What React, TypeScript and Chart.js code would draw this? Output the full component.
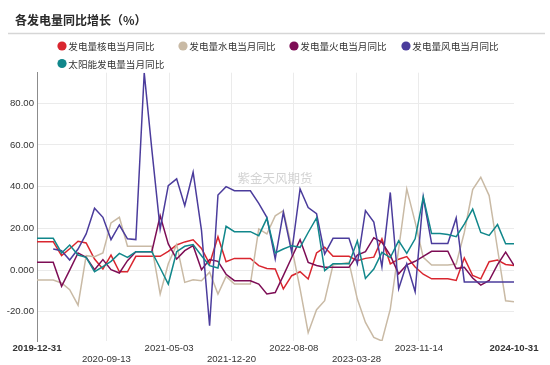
import React, { useEffect, useRef } from "react";
import { Chart, registerables } from "chart.js";

Chart.register(...registerables);

// ---- data ----
const months = [
  "2019-12",
  "2020-01", "2020-02", "2020-03", "2020-04", "2020-05", "2020-06", "2020-07", "2020-08", "2020-09", "2020-10", "2020-11", "2020-12",
  "2021-01", "2021-02", "2021-03", "2021-04", "2021-05", "2021-06", "2021-07", "2021-08", "2021-09", "2021-10", "2021-11", "2021-12",
  "2022-01", "2022-02", "2022-03", "2022-04", "2022-05", "2022-06", "2022-07", "2022-08", "2022-09", "2022-10", "2022-11", "2022-12",
  "2023-01", "2023-02", "2023-03", "2023-04", "2023-05", "2023-06", "2023-07", "2023-08", "2023-09", "2023-10", "2023-11", "2023-12",
  "2024-01", "2024-02", "2024-03", "2024-04", "2024-05", "2024-06", "2024-07", "2024-08", "2024-09", "2024-10",
];

const tickLabels = ["2019-12-31", "2020-09-13", "2021-05-03", "2021-12-20", "2022-08-08", "2023-03-28", "2023-11-14", "2024-10-31"];

const titleText = "各发电量同比增长（%）";
const watermarkText = "紫金天风期货";

const seriesNames = ["发电量核电当月同比", "发电量水电当月同比", "发电量火电当月同比", "发电量风电当月同比", "太阳能发电量当月同比"];
const seriesColors = ["#d9262f", "#c9baa5", "#7d0d55", "#4b3c9c", "#11878b"];

const nuclear = [
  13.6, 13.6, 13.6, 6.9, 10.2, 13.8, 13, 5.3, 0.5, 7.2, -0.8, -0.8,
  6.6, 6.6, 6.6, 6.6, 9, 12, 13.5, 14.5, 10.4, 3, 16, 4,
  5.6, 5.6, 5.6, 2.1, 0.8, 0.5, -9, -2.7, -0.8, -4.3, 8.2, 10.9,
  6.6, 6.6, 6.6, 4.5, 5.6, 6.2, 15, 3, 5.2, 6.5, 1.5, -2,
  -4.2, -4.2, -4.2, -5, 5.8, -2.6, -4.2, 4, 4.8, 2.7, 2.2,
];
const hydro = [
  -4.8, -4.8, -4.8, -6.2, -9.4, -16.8, 6.9, 6.4, 8.2, 22.6, 25.3, 11.4,
  11.4, 11.4, 11.4, -11.5, 3, 12.2, -5.9, -4.6, -5.1, -1, -11.5, -3,
  -6.7, -6.7, -6.7, 19.7, 17.3, 26, 28.5, 11, -9, -30, -19, -14.7,
  2.5, 3, 3.7, -13.9, -25.1, -32.3, -34, -18.7, 10.1, 38.9, 23, 6.1,
  2.4, 2.4, 2.4, 2.9, 18, 38.6, 44.5, 35.7, 10.1, -14.7, -15.2,
];
const thermal = [
  3.7, 3.7, 3.7, -7.8, 0, 8.2, 6.1, 0.2, 5, 0.2, -1.4, 4.5,
  8.8, 8.8, 8.8, 26, 12.5, 5.3, 9.3, 11.7, 0.2, 5, 4.2, -2,
  -5.1, -5.1, -5.1, -6.7, -11.5, -10.8, -2.7, 6, 14.6, 3.7, 2.2, 1.3,
  1.3, 1.3, 1.3, 7.2, 8.8, 15.5, 13.3, 7, -1.8, 2.5, 4.2, 6.6,
  9, 9, 9, 0.7, 1.3, -3.8, -7.2, -5, 2.6, 8.6, 2.2,
];
const wind = [
  null, null, 10.1, 9.3, 4.8, 10.1, 17.3, 29.6, 25.3, 14.6, 21.6, 15,
  14.6, 94.6, 58, 19.7, 40.5, 43.7, 30.9, 46.9, 19, -26.7, 36, 40,
  38, 38, 38, 32, 25.3, 5.3, 27.7, 8.5, 38.9, 30, 27, 7.7,
  15.2, 15.2, 15.2, 3, 28.5, 23, 1.5, 37.2, -9, 3, -10.4, 35,
  12.7, 12.7, 12.7, 25, -5.7, -5.7, -5.7, -5.7, -5.7, -5.7, -5.7,
];
const solar = [
  15.2, 15.2, 15.2, 8.2, 12, 7.2, 6.1, -0.8, 1.6, 4.2, 8, 6.1,
  8.8, 8.8, 8.8, 1, -6.7, 8.8, 11.4, 12.2, 6.9, 2.1, 1, 21,
  18.4, 18.4, 18.4, 16.5, 24.8, 8.2, 10.1, 11.7, 10.9, 18, 25, -0.3,
  3, 3, 3, 14, -4, 0.5, 8.5, 6, 14, 8, 15, 35,
  17.5, 17.5, 17, 16, 22, 29.2, 18, 16.6, 21.8, 12.6, 12.6,
];

const yTicks = [-20, 0, 20, 40, 60, 80];

// ---- helpers ----
const DAY = 86400000;
const baseTime = Date.UTC(2019, 11, 31);
const monthEndDay = (ym: string) => {
  const [y, m] = ym.split("-").map(Number);
  return (Date.UTC(y, m, 0) - baseTime) / DAY;
};
const dateDay = (s: string) => {
  const [y, m, d] = s.split("-").map(Number);
  return (Date.UTC(y, m - 1, d) - baseTime) / DAY;
};
const tickDays = tickLabels.map(dateDay);

const allSeries = [nuclear, hydro, thermal, wind, solar];
const allValues = allSeries.flat().filter((v) => v !== null) as number[];
const yMin = Math.min(...allValues);
const yMax = Math.max(...allValues);

const CJK = '"Noto Sans CJK SC", "Noto Sans", sans-serif';
const LATIN = '"Liberation Sans", Arial, sans-serif';

const decorPlugin = {
  id: "decor",
  beforeDatasetsDraw(chart: any) {
    const ctx = chart.ctx;
    ctx.save();
    ctx.font = `12.5px ${CJK}`;
    ctx.fillStyle = "rgba(175,175,175,0.55)";
    ctx.textAlign = "center";
    ctx.textBaseline = "middle";
    ctx.fillText(watermarkText, 275, 178);
    ctx.restore();
  },
  afterDraw(chart: any) {
    const ctx = chart.ctx;
    ctx.save();
    // title
    ctx.font = `bold 12px ${CJK}`;
    ctx.fillStyle = "#2a2a2a";
    ctx.textAlign = "left";
    ctx.textBaseline = "middle";
    ctx.fillText(titleText, 15, 20);
    // rule
    ctx.strokeStyle = "#d6d6d6";
    ctx.lineWidth = 1.6;
    ctx.beginPath();
    ctx.moveTo(8, 33.5);
    ctx.lineTo(545, 33.5);
    ctx.stroke();
    // legend
    const pos = [
      [62, 46],
      [183, 46],
      [294, 46],
      [406, 46],
      [62, 63.5],
    ];
    ctx.font = `9.6px ${CJK}`;
    chart.data.datasets.forEach((ds: any, i: number) => {
      const [cx, cy] = pos[i];
      ctx.fillStyle = ds.borderColor;
      ctx.beginPath();
      ctx.arc(cx, cy, 4.6, 0, Math.PI * 2);
      ctx.fill();
      ctx.fillStyle = "#333";
      ctx.textBaseline = "middle";
      ctx.fillText(ds.label, cx + 6.3, cy + 0.5);
    });
    ctx.restore();
  },
};

export default function App() {
  const canvasRef = useRef<HTMLCanvasElement | null>(null);

  useEffect(() => {
    document.body.style.margin = "0";
    const canvas = canvasRef.current;
    if (!canvas) return;
    const datasets = allSeries.map((arr, i) => ({
      label: seriesNames[i],
      data: months.map((m, k) => ({ x: monthEndDay(m), y: arr[k] })),
      borderColor: seriesColors[i],
      backgroundColor: seriesColors[i],
      borderWidth: 1.5,
      pointRadius: 0,
      tension: 0,
      fill: false,
      spanGaps: false,
      order: 10 - i,
    }));

    const chart = new Chart(canvas, {
      type: "line",
      data: { datasets },
      plugins: [decorPlugin],
      options: {
        animation: false,
        responsive: false,
        devicePixelRatio: 1,
        layout: { padding: { top: 72.7, right: 36, bottom: 0, left: 0 } },
        plugins: {
          legend: { display: false },
          title: { display: false },
          tooltip: { enabled: false },
        },
        scales: {
          x: {
            type: "linear",
            min: 0,
            max: tickDays[tickDays.length - 1],
            afterBuildTicks: (scale: any) => {
              scale.ticks = tickDays.map((v) => ({ value: v }));
            },
            afterFit: (scale: any) => {
              scale.height = 24;
            },
            border: { display: false },
            grid: {
              drawTicks: false,
              color: (ctx: any) =>
                ctx.index === 0 || ctx.index === tickDays.length - 1 ? "rgba(0,0,0,0)" : "#ebebeb",
              lineWidth: 1,
            },
            ticks: {
              autoSkip: false,
              maxRotation: 0,
              minRotation: 0,
              padding: 2.2,
              color: "#333",
              font: (ctx: any) => ({
                family: LATIN,
                size: 9.6,
                lineHeight: 1.1,
                weight: ctx.index === 0 || ctx.index === tickDays.length - 1 ? "bold" : "normal",
              }),
              callback: (_v: any, index: number) => {
                const lbl = tickLabels[index];
                return index % 2 === 1 && index !== tickLabels.length - 1 ? ["", lbl] : lbl;
              },
            },
          },
          y: {
            type: "linear",
            min: yMin,
            max: yMax,
            afterBuildTicks: (scale: any) => {
              scale.ticks = yTicks.map((v) => ({ value: v }));
            },
            afterFit: (scale: any) => {
              scale.width = 37;
            },
            border: { display: true, color: "#8c8c8c", width: 1 },
            grid: { drawTicks: false, color: "#ebebeb", lineWidth: 1 },
            ticks: {
              padding: 3,
              color: "#333",
              font: { family: LATIN, size: 9.6 },
              callback: (v: any) => (Number(v) === 0 ? "0.000" : Number(v).toFixed(2)),
            },
          },
        },
      },
    } as any);

    return () => chart.destroy();
  }, []);

  return (
    <div style={{ position: "absolute", left: 0, top: 0, width: 550, height: 365 }}>
      <canvas ref={canvasRef} width={550} height={365} style={{ display: "block" }} />
    </div>
  );
}
